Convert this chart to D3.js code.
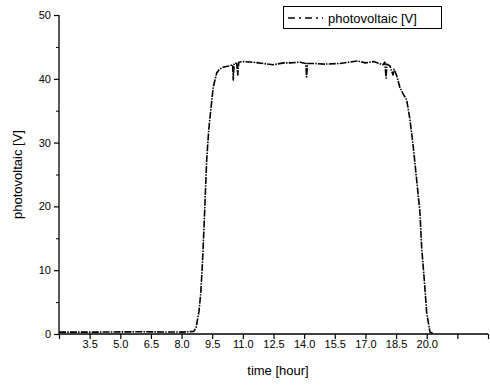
<!DOCTYPE html>
<html>
<head>
<meta charset="utf-8">
<script src="https://cdn.jsdelivr.net/npm/d3@7"></script>
<style>
  body { margin: 0; background: #fff; }
  svg { display: block; font-family: "Liberation Sans", Arial, sans-serif; }
</style>
</head>
<body>
<div id="chart"></div>
<script>
// time of day [hour]
const hours = [2.0, 4.0, 6.0, 8.0, 8.6, 8.71, 8.85, 8.94, 9.02, 9.10, 9.23, 9.33, 9.43, 9.55, 9.72, 9.85,
  10.03, 10.3, 10.5, 10.53, 10.57, 10.62, 10.7, 10.75, 10.8, 11.01, 11.5, 12.0, 12.48, 13.0, 13.31, 13.8,
  14.08, 14.12, 14.16, 14.5, 15.0, 15.75, 16.2, 16.6, 17.0, 17.4, 17.86, 17.95, 18.01, 18.05, 18.2, 18.35,
  18.4, 18.53, 18.69, 18.85, 19.02, 19.18, 19.34, 19.51, 19.67, 19.75, 19.88, 20.0, 20.16, 20.3];
// photovoltaic voltage [V]
const volts = [0.3, 0.3, 0.35, 0.3, 0.4, 1.0, 3.5, 6.4, 11, 16.8, 27.3, 32, 35.1, 38.7, 40.9, 41.5,
  41.8, 42.0, 42.2, 39.8, 42.3, 42.5, 42.4, 40.6, 42.6, 42.7, 42.6, 42.4, 42.2, 42.5, 42.5, 42.6,
  42.4, 40.3, 42.4, 42.4, 42.3, 42.4, 42.6, 42.8, 42.5, 42.7, 42.2, 42.6, 40.1, 42.3, 42.0, 40.6,
  41.5, 40.5, 38.6, 37.6, 36.7, 33.6, 29.4, 24.1, 19.0, 13.7, 8.5, 3.3, 0.3, 0.1];

const xTicks = [2.0, 3.5, 5.0, 6.5, 8.0, 9.5, 11.0, 12.5, 14.0, 15.5, 17.0, 18.5, 20.0, 21.5, 23.0];
const xLabeled = [3.5, 5.0, 6.5, 8.0, 9.5, 11.0, 12.5, 14.0, 15.5, 17.0, 18.5, 20.0];
const yMajor = [0, 10, 20, 30, 40, 50];
const yMinor = [5, 15, 25, 35, 45];
const seriesName = "photovoltaic [V]";

const width = 490, height = 386;
const x = d3.scaleLinear().domain([2, 23]).range([59, 488]);
const y = d3.scaleLinear().domain([0, 50]).range([334, 15]);

const svg = d3.select("#chart").append("svg")
  .attr("width", width)
  .attr("height", height);

// x axis
const xAxis = d3.axisBottom(x)
  .tickValues(xTicks)
  .tickSize(5)
  .tickFormat(d => xLabeled.includes(d) ? d3.format(".1f")(d) : "");
const gx = svg.append("g")
  .attr("transform", `translate(0,${y(0)})`)
  .call(xAxis);
gx.select(".domain").attr("d", `M${x(2)},0H${x(23)}`).attr("stroke-width", 1.3);
gx.selectAll(".tick line").attr("stroke-width", 1.2);
gx.selectAll(".tick text").attr("font-size", 11).attr("dy", "0.55em").attr("fill", "#000");

// y axis
const gy = svg.append("g")
  .attr("transform", `translate(${x(2)},0)`)
  .call(d3.axisLeft(y).tickValues(yMajor).tickSize(5).tickFormat(d3.format("d")));
gy.select(".domain").attr("d", `M0,${y(0)}V${y(50)}`).attr("stroke-width", 1.3);
gy.selectAll(".tick line").attr("stroke-width", 1.2);
gy.selectAll(".tick text").attr("font-size", 11).attr("fill", "#000").attr("x", -8);
svg.append("g")
  .attr("transform", `translate(${x(2)},0)`)
  .call(d3.axisLeft(y).tickValues(yMinor).tickSize(3).tickFormat(""))
  .call(g => g.select(".domain").remove());

// axis titles
svg.append("text")
  .attr("x", 278).attr("y", 375)
  .attr("text-anchor", "middle")
  .attr("font-size", 13)
  .text("time [hour]");
svg.append("text")
  .attr("transform", `translate(22,${(y(0) + y(50)) / 2}) rotate(-90)`)
  .attr("text-anchor", "middle")
  .attr("font-size", 13)
  .text(seriesName);

// series
const line = d3.line()
  .x((d, i) => x(hours[i]))
  .y(d => y(d));
svg.append("path")
  .attr("d", line(volts))
  .attr("fill", "none")
  .attr("stroke", "#000")
  .attr("stroke-width", 1.6)
  .attr("stroke-linejoin", "round")
  .attr("stroke-dasharray", "7,1.2,1.5,1.2");

// legend
const lg = svg.append("g");
lg.append("rect")
  .attr("x", 283.5).attr("y", 6.5)
  .attr("width", 158).attr("height", 22)
  .attr("fill", "#fff").attr("stroke", "#000").attr("stroke-width", 1);
lg.append("line")
  .attr("x1", 288).attr("x2", 323).attr("y1", 18).attr("y2", 18)
  .attr("stroke", "#000").attr("stroke-width", 1.3)
  .attr("stroke-dasharray", "7,4,2,4");
lg.append("text")
  .attr("x", 328).attr("y", 22.5)
  .attr("font-size", 13)
  .text(seriesName);
</script>
</body>
</html>
